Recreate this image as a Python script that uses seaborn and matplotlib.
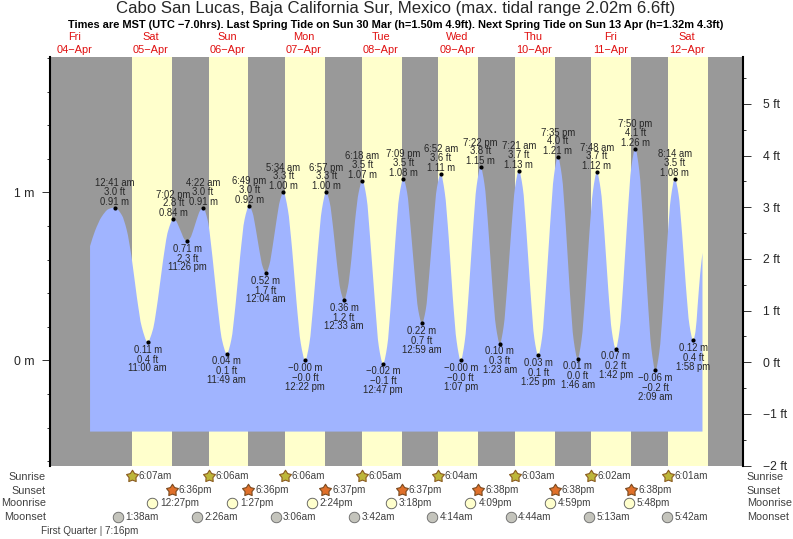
import matplotlib
matplotlib.use("Agg")
import matplotlib.pyplot as plt
import matplotlib.transforms as mtrans
from matplotlib.patches import PathPatch
from matplotlib.path import Path
from matplotlib.ticker import FixedLocator, FuncFormatter
import seaborn as sns
import pandas as pd

# ---- data: all times are hours after 00:00 on 05-Apr ----
curve_t = [-7.05, -5.5, -3.4, -1.3, 0.68, 2.9, 4.45, 6.0, 7.6, 9.15, 11.0,
           12.6, 14.2, 15.8, 17.4, 19.03, 19.9, 20.8, 21.7, 22.55, 23.43,
           24.4, 25.4, 26.4, 27.4, 28.37, 29.86, 31.35, 32.84, 34.33, 35.82,
           37.2, 38.6, 40.0, 41.4, 42.82, 43.87, 44.92, 45.97, 47.02, 48.07,
           49.17, 50.27, 51.37, 52.47, 53.57, 54.93, 56.29, 57.65, 59.01, 60.37,
           61.69, 63.0, 64.32, 65.63, 66.95, 68.07, 69.19, 70.31, 71.43, 72.55,
           73.7, 74.85, 76.0, 77.15, 78.3, 79.6, 80.89, 82.19, 83.48, 84.78,
           86.05, 87.33, 88.6, 89.88, 91.15, 92.32, 93.48, 94.65, 95.81, 96.98,
           98.16, 99.34, 100.51, 101.69, 102.87, 104.12, 105.37, 106.62, 107.87, 109.12,
           110.37, 111.62, 112.87, 114.12, 115.37, 116.57, 117.77, 118.98, 120.18, 121.38,
           122.57, 123.77, 124.96, 126.16, 127.35, 128.56, 129.78, 130.99, 132.21, 133.42,
           134.65, 135.88, 137.12, 138.35, 139.58, 140.82, 142.06, 143.29, 144.53, 145.77,
           146.98, 148.18, 149.39, 150.59, 151.8, 152.98, 154.16, 155.34, 156.52, 157.7,
           158.93, 160.15, 161.38, 162.6, 163.83, 165.09, 166.36, 167.62, 168.89, 170.15,
           171.37, 172.58, 173.8, 175.01, 176.23, 177.38, 178.53, 179.67, 180.82, 181.97,
           182.7, 183.4, 184.2, 184.9]
curve_m = [0.68, 0.77, 0.855, 0.90, 0.91, 0.865, 0.776, 0.61, 0.38, 0.20, 0.11,
           0.18, 0.36, 0.59, 0.77, 0.84, 0.83, 0.795, 0.755, 0.72, 0.71,
           0.73, 0.78, 0.84, 0.89, 0.91, 0.83, 0.61, 0.34, 0.12, 0.04,
           0.12, 0.34, 0.62, 0.84, 0.92, 0.88, 0.78, 0.66, 0.56, 0.52,
           0.57, 0.69, 0.83, 0.95, 1.00, 0.90, 0.66, 0.35, 0.10, 0.00,
           0.10, 0.35, 0.65, 0.90, 1.00, 0.94, 0.78, 0.58, 0.42, 0.36,
           0.43, 0.60, 0.83, 1.00, 1.07, 0.97, 0.69, 0.36, 0.08, -0.02,
           0.08, 0.36, 0.70, 0.98, 1.08, 1.00, 0.78, 0.52, 0.30, 0.22,
           0.30, 0.53, 0.80, 1.03, 1.11, 1.00, 0.73, 0.38, 0.11, 0.00,
           0.11, 0.40, 0.75, 1.04, 1.15, 1.05, 0.79, 0.46, 0.20, 0.10,
           0.20, 0.46, 0.77, 1.03, 1.13, 1.03, 0.75, 0.41, 0.13, 0.03,
           0.14, 0.44, 0.80, 1.10, 1.21, 1.10, 0.80, 0.42, 0.12, 0.01,
           0.12, 0.39, 0.74, 1.01, 1.12, 1.02, 0.76, 0.43, 0.17, 0.07,
           0.18, 0.48, 0.85, 1.15, 1.26, 1.13, 0.80, 0.40, 0.07, -0.06,
           0.05, 0.33, 0.69, 0.97, 1.08, 0.99, 0.75, 0.45, 0.21, 0.12,
           0.17, 0.33, 0.52, 0.64]
curve_floor_m = -0.424

ext_t = [0.68, 11.0, 19.03, 23.43, 28.37, 35.82, 42.82, 48.07, 53.57, 60.37,
         66.95, 72.55, 78.3, 84.78, 91.15, 96.98, 102.87, 109.12, 115.37, 121.38,
         127.35, 133.42, 139.58, 145.77, 151.8, 157.7, 163.83, 170.15, 176.23, 181.97]
ext_m = [0.91, 0.11, 0.84, 0.71, 0.91, 0.04, 0.92, 0.52, 1.00, -0.00,
         1.00, 0.36, 1.07, -0.02, 1.08, 0.22, 1.11, -0.00, 1.15, 0.10,
         1.13, 0.03, 1.21, 0.01, 1.12, 0.07, 1.26, -0.06, 1.08, 0.12]
ext_m_lbl = ["0.91 m", "0.11 m", "0.84 m", "0.71 m", "0.91 m", "0.04 m", "0.92 m", "0.52 m", "1.00 m", "\u22120.00 m",
             "1.00 m", "0.36 m", "1.07 m", "\u22120.02 m", "1.08 m", "0.22 m", "1.11 m", "\u22120.00 m", "1.15 m", "0.10 m",
             "1.13 m", "0.03 m", "1.21 m", "0.01 m", "1.12 m", "0.07 m", "1.26 m", "\u22120.06 m", "1.08 m", "0.12 m"]
ext_ft_lbl = ["3.0 ft", "0.4 ft", "2.8 ft", "2.3 ft", "3.0 ft", "0.1 ft", "3.0 ft", "1.7 ft", "3.3 ft", "\u22120.0 ft",
              "3.3 ft", "1.2 ft", "3.5 ft", "\u22120.1 ft", "3.5 ft", "0.7 ft", "3.6 ft", "\u22120.0 ft", "3.8 ft", "0.3 ft",
              "3.7 ft", "0.1 ft", "4.0 ft", "0.0 ft", "3.7 ft", "0.2 ft", "4.1 ft", "\u22120.2 ft", "3.5 ft", "0.4 ft"]
ext_time_lbl = ["12:41 am", "11:00 am", "7:02 pm", "11:26 pm", "4:22 am", "11:49 am", "6:49 pm", "12:04 am", "5:34 am", "12:22 pm",
                "6:57 pm", "12:33 am", "6:18 am", "12:47 pm", "7:09 pm", "12:59 am", "6:52 am", "1:07 pm", "7:22 pm", "1:23 am",
                "7:21 am", "1:25 pm", "7:35 pm", "1:46 am", "7:48 am", "1:42 pm", "7:50 pm", "2:09 am", "8:14 am", "1:58 pm"]
ext_is_high = [True, False, True, False, True, False, True, False, True, False,
               True, False, True, False, True, False, True, False, True, False,
               True, False, True, False, True, False, True, False, True, False]

day_names = ["Fri", "Sat", "Sun", "Mon", "Tue", "Wed", "Thu", "Fri", "Sat"]
day_dates = ["04\u2212Apr", "05\u2212Apr", "06\u2212Apr", "07\u2212Apr", "08\u2212Apr",
             "09\u2212Apr", "10\u2212Apr", "11\u2212Apr", "12\u2212Apr"]
day_noon_t = [-12, 12, 36, 60, 84, 108, 132, 156, 180]

sunrise_t = [6.12, 30.10, 54.10, 78.08, 102.07, 126.05, 150.03, 174.02]
sunset_t = [18.60, 42.60, 66.62, 90.62, 114.63, 138.63, 162.63, 186.63]
sunrise_lbl = ["6:07am", "6:06am", "6:06am", "6:05am", "6:04am", "6:03am", "6:02am", "6:01am"]
sunset_lbl = ["6:36pm", "6:36pm", "6:37pm", "6:37pm", "6:38pm", "6:38pm", "6:38pm"]
moonrise_t = [12.45, 37.45, 62.40, 87.30, 112.15, 137.0, 161.8]
moonrise_lbl = ["12:27pm", "1:27pm", "2:24pm", "3:18pm", "4:09pm", "4:59pm", "5:48pm"]
moonset_t = [1.63, 26.43, 51.10, 75.70, 100.23, 124.73, 149.22, 173.70]
moonset_lbl = ["1:38am", "2:26am", "3:06am", "3:42am", "4:14am", "4:44am", "5:13am", "5:42am"]

title_txt = "Cabo San Lucas, Baja California Sur, Mexico (max. tidal range 2.02m 6.6ft)"
subtitle_txt = ("Times are MST (UTC \u22127.0hrs). Last Spring Tide on Sun 30 Mar (h=1.50m 4.9ft). "
                "Next Spring Tide on Sun 13 Apr (h=1.32m 4.3ft)")
phase_txt = "First Quarter | 7:16pm"
m_ticks = [0, 1]
m_minor = [-0.6, -0.4, -0.2, 0.2, 0.4, 0.6, 0.8, 1.2, 1.4, 1.6, 1.8]
ft_ticks = [-2, -1, 0, 1, 2, 3, 4, 5]
ft_minor = [-1.5, -0.5, 0.5, 1.5, 2.5, 3.5, 4.5, 5.5]

# ---- styles ----
GREY = "#999999"
YELLOW = "#FFFFCC"
BLUE = "#A0B4FF"
TXT = "#262626"
W, H = 793, 539
sns.set_theme(style="white")
plt.rcParams["font.family"] = ["Liberation Sans", "DejaVu Sans"]

fig = plt.figure(figsize=(W / 100, H / 100), dpi=100, facecolor="white")
L, R, T, B = 50, 743, 57, 465.5
ax = fig.add_axes([L / W, 1 - B / H, (R - L) / W, (B - T) / H])
ax.set_facecolor(GREY)
ax.set_xlim(-19.6, 197.6)
ax.set_ylim(-0.626, 1.806)

for a, b in zip(sunrise_t, sunset_t):
    ax.axvspan(a, b, color=YELLOW, lw=0, zorder=1)


def smooth_area(xs, ys, floor):
    """Closed area under a smooth Bezier path through the given points."""
    n = len(xs)
    d = [(ys[i + 1] - ys[i]) / (xs[i + 1] - xs[i]) for i in range(n - 1)]
    s = [d[0]] + [0.0] * (n - 2) + [d[-1]]
    for i in range(1, n - 1):
        if d[i - 1] * d[i] > 0:
            s[i] = 2 * d[i - 1] * d[i] / (d[i - 1] + d[i])
    verts = [(xs[0], floor), (xs[0], ys[0])]
    codes = [Path.MOVETO, Path.LINETO]
    for i in range(n - 1):
        h = (xs[i + 1] - xs[i]) / 3
        verts += [(xs[i] + h, ys[i] + s[i] * h), (xs[i + 1] - h, ys[i + 1] - s[i + 1] * h), (xs[i + 1], ys[i + 1])]
        codes += [Path.CURVE4] * 3
    verts += [(xs[-1], floor), (xs[0], floor)]
    codes += [Path.LINETO, Path.CLOSEPOLY]
    return Path(verts, codes)


ax.add_patch(PathPatch(smooth_area(curve_t, curve_m, curve_floor_m), facecolor=BLUE, lw=0, zorder=2))

ext = pd.DataFrame({"t": ext_t, "m": ext_m})
sns.scatterplot(data=ext, x="t", y="m", color="black", s=9, linewidth=0, zorder=4, ax=ax, legend=False)

for t, m, lm, lf, lt, hi in zip(ext_t, ext_m, ext_m_lbl, ext_ft_lbl, ext_time_lbl, ext_is_high):
    offs = (4.3, 11.5, 17.7) if hi else (-5.5, -12.7, -19.0)
    for txt, o in zip((lm, lf, lt), offs):
        ax.annotate(txt, (t, m), xytext=(0, o), textcoords="offset points", ha="center",
                    va="center", fontsize=6.85, color=TXT, zorder=5, annotation_clip=False)

# ---- axes furniture ----
ax.set_xticks([])
ax.set_xlabel("")
ax.set_ylabel("")
for s in ax.spines.values():
    s.set_visible(False)
ax.spines["left"].set_visible(True)
ax.spines["left"].set_color("black")
ax.spines["left"].set_linewidth(1.5)
ax.yaxis.set_major_locator(FixedLocator(m_ticks))
ax.yaxis.set_minor_locator(FixedLocator(m_minor))
ax.yaxis.set_major_formatter(FuncFormatter(lambda v, _: f"{v:.0f} m"))
ax.tick_params(axis="y", which="major", left=True, length=6, width=0.7, color="#333333",
               labelsize=8.8, labelcolor=TXT, pad=5)
ax.tick_params(axis="y", which="minor", left=True, length=2, width=0.7, color="#333333")

ax2 = ax.twinx()
ax2.set_ylim(-2.0, 5.907)
ax2.grid(False)
for s in ax2.spines.values():
    s.set_visible(False)
ax2.spines["right"].set_visible(True)
ax2.spines["right"].set_color("black")
ax2.spines["right"].set_linewidth(1.5)
ax2.yaxis.set_major_locator(FixedLocator(ft_ticks))
ax2.yaxis.set_minor_locator(FixedLocator(ft_minor))
ax2.yaxis.set_major_formatter(FuncFormatter(lambda v, _: f"{v:.0f} ft".replace("-", "\u2212")))
ax2.tick_params(axis="y", which="major", right=True, length=5.5, width=0.7, color="#333333",
                labelsize=8.8, labelcolor=TXT, pad=9)
ax2.tick_params(axis="y", which="minor", right=True, length=2.5, width=0.7, color="#333333")
ax2.set_ylabel("")


# ---- titles and day labels ----
def fy(px):
    return 1 - px / H


fig.text(396 / W, fy(8.5), title_txt, ha="center", va="center", fontsize=12.05, color=TXT)
fig.text(396 / W, fy(25), subtitle_txt, ha="center", va="center", fontsize=7.89, fontweight="bold", color="black")

xfig = mtrans.blended_transform_factory(ax.transData, fig.transFigure)
for t, n, d in zip(day_noon_t, day_names, day_dates):
    ax.text(t, fy(37), n, transform=xfig, ha="center", va="center", fontsize=7.9, color="#E01010", clip_on=False)
    ax.text(t, fy(50), d, transform=xfig, ha="center", va="center", fontsize=7.9, color="#E01010", clip_on=False)

# ---- almanac rows ----
ROW_FS = 7.2
rows = [("Sunrise", 476.5), ("Sunset", 490.5), ("Moonrise", 503.5), ("Moonset", 517)]
for name, y in rows:
    fig.text(45.7 / W, fy(y), name, ha="right", va="center", fontsize=7.8, color="#404040")
    fig.text(746.7 / W, fy(y), name, ha="left", va="center", fontsize=7.8, color="#404040")

fat_star = Path.unit_regular_star(5, innerCircle=0.58)


def almanac(ts, labels, ypx, marker, size, face, edge, mew, dx):
    for t, lab in zip(ts, labels):
        ax2.plot([t], [fy(ypx)], marker=marker, ms=size, mfc=face, mec=edge, mew=mew, transform=xfig,
                 clip_on=False, ls="none", zorder=6)
        ax2.annotate(lab, (t, fy(ypx)), xycoords=xfig, xytext=(dx, 0), textcoords="offset pixels",
                     ha="left", va="center", fontsize=ROW_FS, color="#404040", annotation_clip=False)


almanac(sunrise_t, sunrise_lbl, 476, fat_star, 9.0, "#BDB63A", "#8A5A20", 0.8, 6.5)
almanac(sunset_t[:7], sunset_lbl, 490, fat_star, 9.0, "#E0702A", "#7A4A20", 0.8, 7)
almanac(moonrise_t, moonrise_lbl, 503, "o", 7.6, YELLOW, "#555555", 0.6, 8)
almanac(moonset_t, moonset_lbl, 517, "o", 7.6, "#C4C4BC", "#666666", 0.6, 7.5)

fig.text(41 / W, fy(531), phase_txt, ha="left", va="center", fontsize=ROW_FS, color="#404040")

fig.savefig("out.png", dpi=100, facecolor="white")
